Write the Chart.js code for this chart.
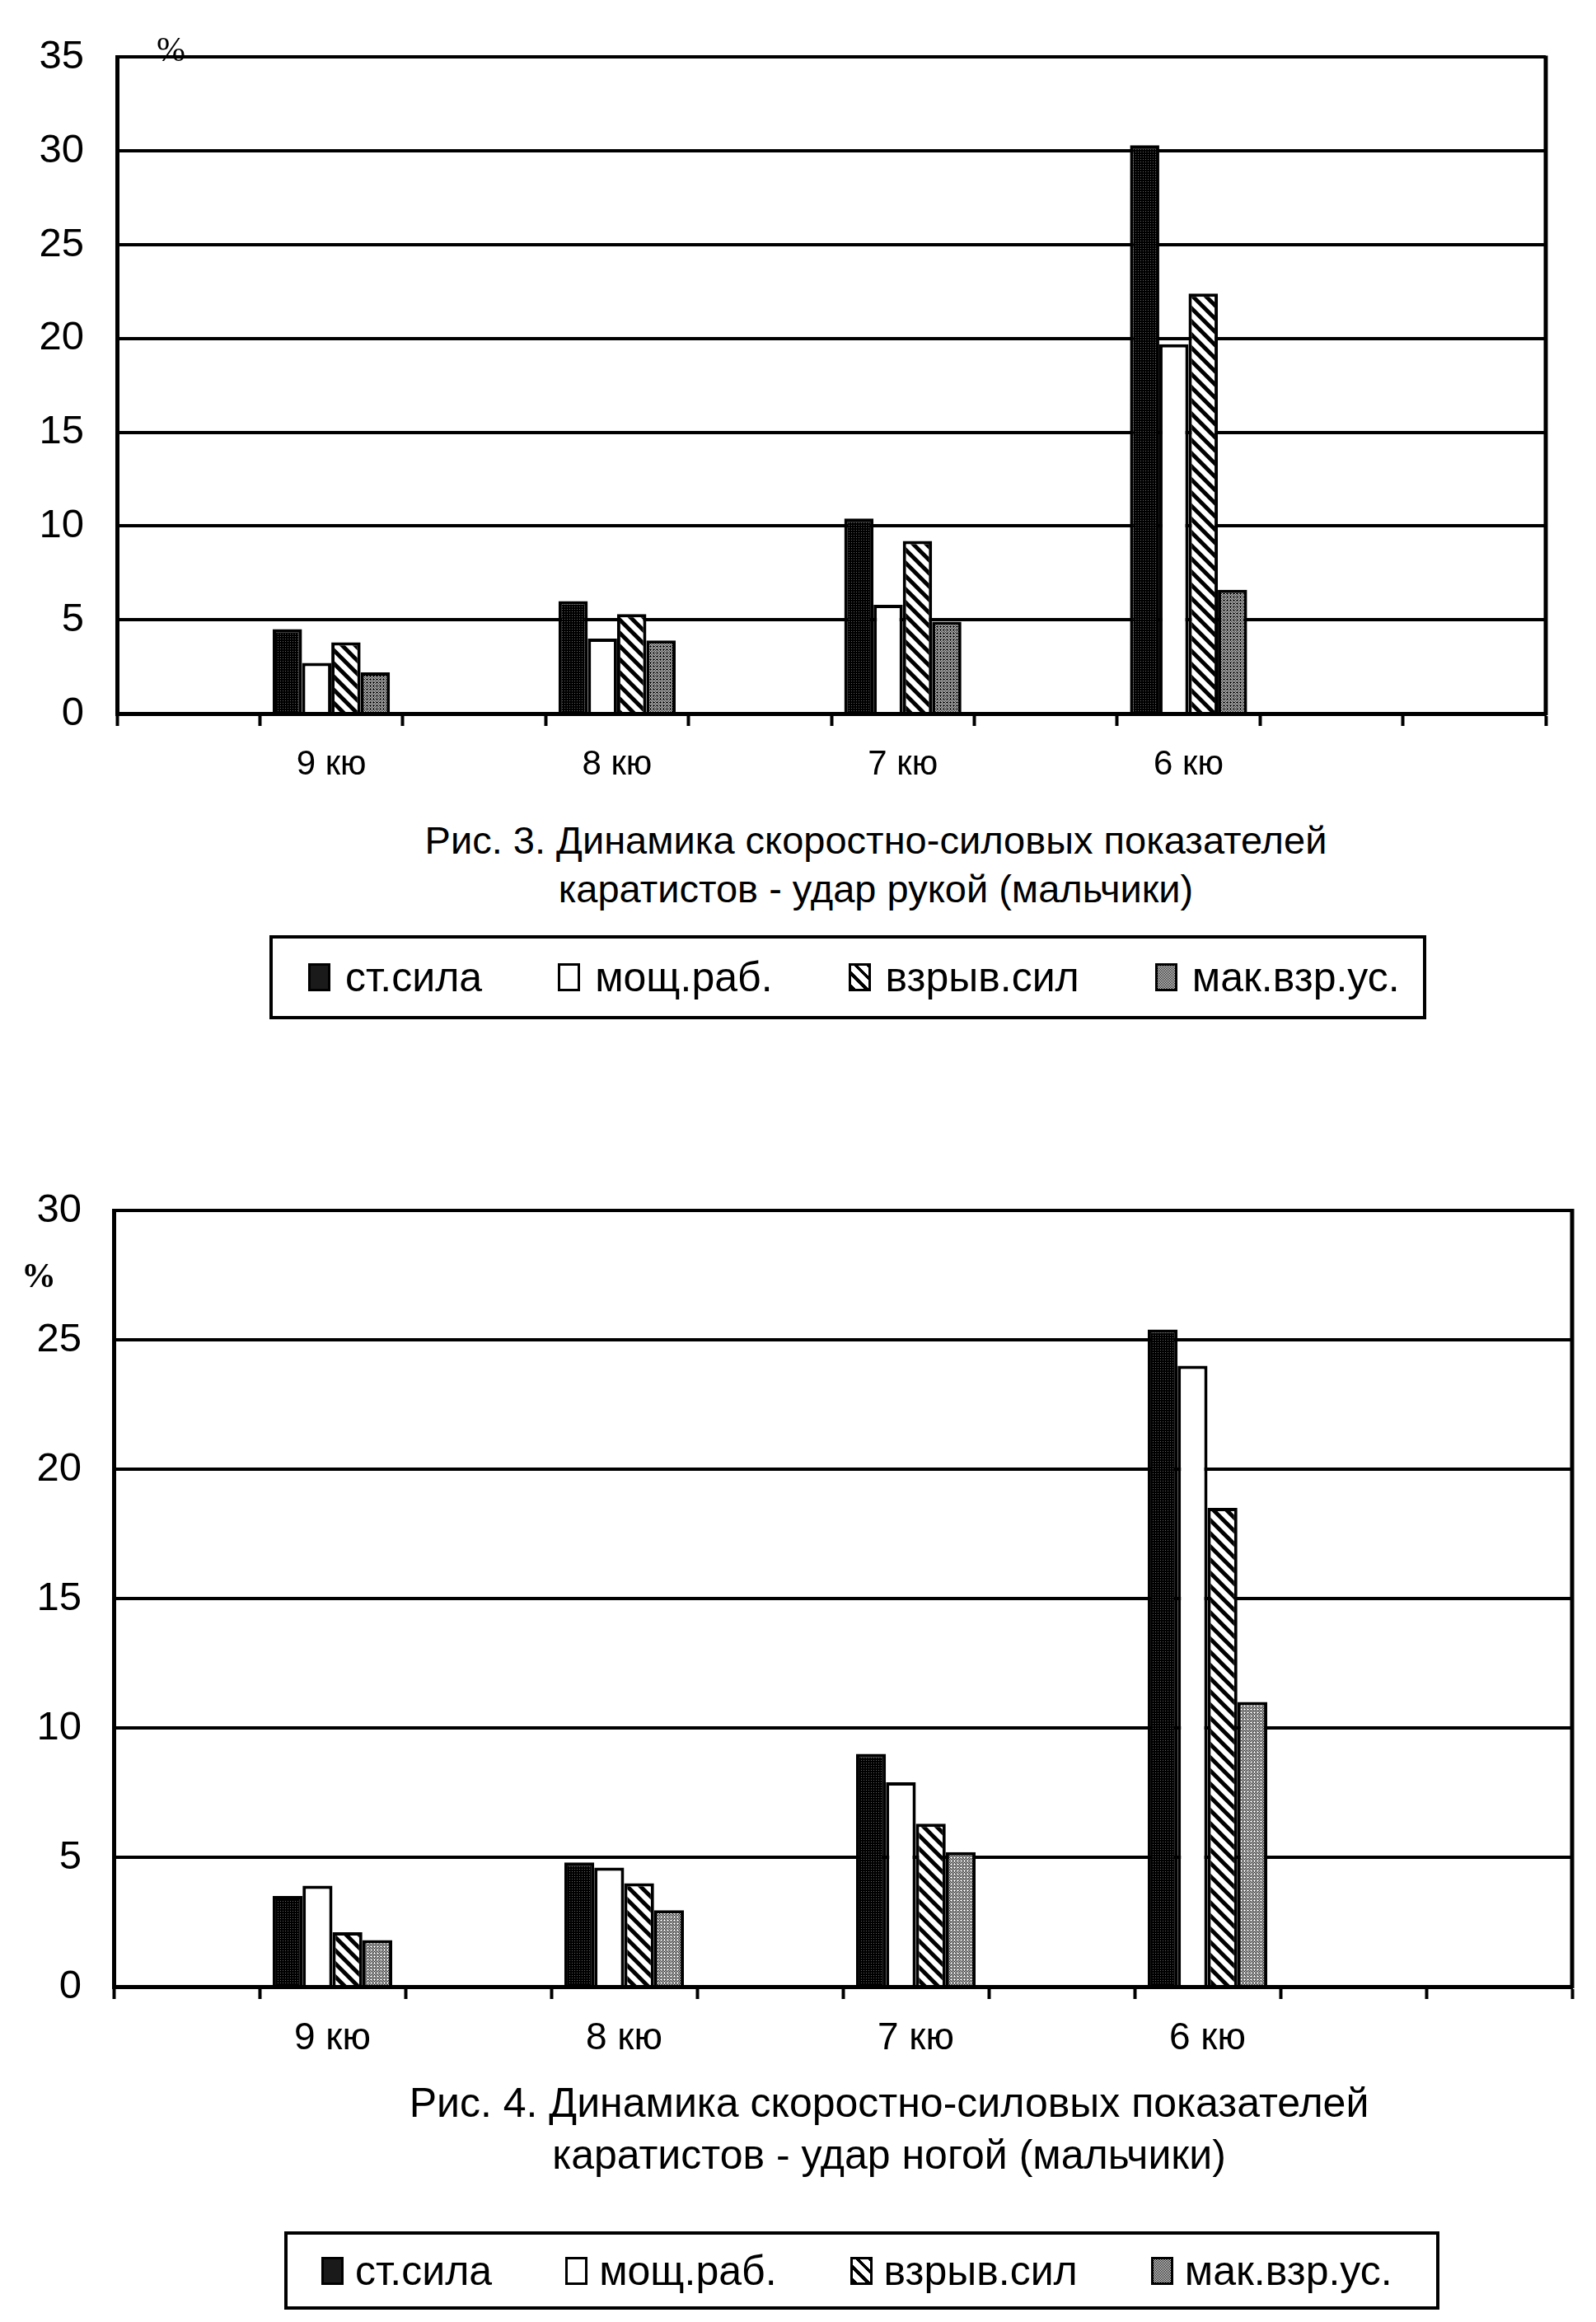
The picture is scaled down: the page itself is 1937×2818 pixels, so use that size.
<!DOCTYPE html>
<html>
<head>
<meta charset="utf-8">
<script src="https://cdn.jsdelivr.net/npm/chart.js@4.4.1/dist/chart.umd.min.js"></script>
<style>
    body { margin: 0; background: #fff; width: 1937px; height: 2818px; position: relative; overflow: hidden;
           font-family: "Liberation Sans", Arial, sans-serif; color: #000; }
    .wrap { position: absolute; left: 0; }
    canvas { display: block; }
    .pct { position: absolute; font-family: "Liberation Serif", "Times New Roman", serif; font-size: 42px; line-height: 42px; }
    .cap { position: absolute; width: 1400px; text-align: center; }
    .leg { position: absolute; box-sizing: border-box; border: 4px solid #000; display: flex; align-items: center; }
    .item { display: flex; align-items: center; white-space: nowrap; }
    .sw { box-sizing: border-box; width: 27px; height: 34px; border: 3px solid #000; }
    .sw.s0 { background: #1a1a1a; }
    .sw.s1 { background: #fff; }
    .sw.s2 { background: repeating-linear-gradient(45deg, #000 0 4px, #fff 4px 11px); }
    .sw.s3 { background: repeating-conic-gradient(#000 0 25%, #fff 0 50%) 0 0 / 2px 2px; }
</style>
</head>
<body>

<div class="wrap" style="top:0"><canvas id="fig3" width="1937" height="980"></canvas></div>
<div class="pct" style="left:190px; top:39px;">%</div>
<div class="cap" style="left:363px; top:990px; font-size:47px; line-height:59px;">
    Рис. 3. Динамика скоростно-силовых показателей<br>каратистов - удар рукой (мальчики)
</div>
<div class="leg" id="leg3" style="left:327px; top:1135px; width:1404px; height:102px; padding-left:43px; gap:92px; font-size:50px;"></div>

<div class="wrap" style="top:1400px"><canvas id="fig4" width="1937" height="1110"></canvas></div>
<div class="pct" style="left:26px; top:1527px; font-weight:bold;">%</div>
<div class="cap" style="left:379px; top:2521px; font-size:50px; line-height:63px;">
    Рис. 4. Динамика скоростно-силовых показателей<br>каратистов - удар ногой (мальчики)
</div>
<div class="leg" id="leg4" style="left:345px; top:2708px; width:1402px; height:95px; padding-left:41px; gap:89px; font-size:50px;"></div>

<script>
// categories (belt grades) and series names
const categories = ['9 кю', '8 кю', '7 кю', '6 кю'];
const seriesNames = ['ст.сила', 'мощ.раб.', 'взрыв.сил', 'мак.взр.ус.'];

// Рис. 3 - удар рукой, %
const fig3StSila = [4.5, 6.0, 10.4, 30.3];
const fig3MoshchRab = [2.7, 4.0, 5.8, 19.7];
const fig3VzryvSil = [3.8, 5.3, 9.2, 22.4];
const fig3MakVzrUs = [2.2, 3.9, 4.9, 6.6];
const fig3Ticks = [0, 5, 10, 15, 20, 25, 30, 35];

// Рис. 4 - удар ногой, %
const fig4StSila = [3.5, 4.8, 9.0, 25.4];
const fig4MoshchRab = [3.9, 4.6, 7.9, 24.0];
const fig4VzryvSil = [2.1, 4.0, 6.3, 18.5];
const fig4MakVzrUs = [1.8, 2.95, 5.2, 11.0];
const fig4Ticks = [0, 5, 10, 15, 20, 25, 30];

// the original axis has 10 slots, grades sit in every second one
const SLOTS = 10;
function slotLabels() {
    const out = Array(SLOTS).fill('');
    categories.forEach((c, i) => out[2 * i + 1] = c);
    return out;
}
function slotData(values) {
    const out = Array(SLOTS).fill(null);
    values.forEach((v, i) => out[2 * i + 1] = v);
    return out;
}

// fill patterns like the printed ones
function tile(size, draw) {
    const c = document.createElement('canvas');
    c.width = c.height = size;
    const g = c.getContext('2d');
    draw(g);
    return g.createPattern(c, 'repeat');
}
function dots(cells) {
    return tile(4, g => {
        g.fillStyle = '#fff'; g.fillRect(0, 0, 4, 4);
        g.fillStyle = '#000';
        cells.forEach(p => g.fillRect(p[0], p[1], 1, 1));
    });
}
const darkFill = tile(3, g => {
    g.fillStyle = '#000'; g.fillRect(0, 0, 3, 3);
    g.fillStyle = '#666'; g.fillRect(1, 1, 1, 1);
});
const hatchFill = tile(16, g => {
    g.fillStyle = '#fff'; g.fillRect(0, 0, 16, 16);
    g.strokeStyle = '#000'; g.lineWidth = 5;
    g.beginPath();
    g.moveTo(-4, -4); g.lineTo(20, 20);
    g.moveTo(-4, 12); g.lineTo(4, 20);
    g.moveTo(12, -4); g.lineTo(20, 4);
    g.stroke();
});
// fig 3 prints a bit darker than fig 4
const greyDark = dots([[0, 0], [2, 0], [1, 1], [3, 1], [0, 2], [2, 2], [1, 3], [3, 3], [1, 0]]);
const greyLight = dots([[0, 0], [2, 0], [1, 1], [3, 1], [0, 2], [1, 3], [3, 3]]);

// right border of the plot frame
const framePlugin = {
    id: 'frame',
    afterDatasetsDraw(chart) {
        const { ctx, chartArea: a } = chart;
        ctx.save();
        ctx.strokeStyle = '#000';
        ctx.lineWidth = 5;
        ctx.beginPath();
        ctx.moveTo(a.right, a.top - 2);
        ctx.lineTo(a.right, a.bottom + 2);
        ctx.stroke();
        ctx.restore();
    }
};

function buildChart(id, series, ticks, fills, box) {
    const ctx = document.getElementById(id).getContext('2d');
    return new Chart(ctx, {
        type: 'bar',
        data: {
            labels: slotLabels(),
            datasets: series.map((values, i) => ({
                label: seriesNames[i],
                data: slotData(values),
                backgroundColor: fills[i],
                borderColor: '#000',
                borderWidth: 4,
                categoryPercentage: 0.82,
                barPercentage: 1.0
            }))
        },
        plugins: [framePlugin],
        options: {
            responsive: false,
            animation: false,
            layout: { padding: { top: box.top, right: box.right, left: 0, bottom: 0 } },
            plugins: { legend: { display: false }, tooltip: { enabled: false } },
            scales: {
                x: {
                    afterFit: scale => { scale.height = box.axisHeight; },
                    grid: { offset: true, drawOnChartArea: false, drawTicks: true, tickLength: 15, tickWidth: 4, tickColor: '#000' },
                    border: { display: true, color: '#000', width: 5 },
                    ticks: { autoSkip: false, maxRotation: 0, color: '#000', padding: box.labelPad,
                             font: { family: '"Liberation Sans", Arial, sans-serif', size: box.labelSize } }
                },
                y: {
                    min: ticks[0],
                    max: ticks[ticks.length - 1],
                    afterFit: scale => { scale.width = box.axisWidth; },
                    grid: { color: '#000', lineWidth: 4, drawTicks: false },
                    border: { display: true, color: '#000', width: 5 },
                    ticks: { stepSize: ticks[1] - ticks[0], color: '#000', padding: box.tickPad,
                             font: { family: '"Liberation Sans", Arial, sans-serif', size: 49 } }
                }
            }
        }
    });
}

buildChart('fig3', [fig3StSila, fig3MoshchRab, fig3VzryvSil, fig3MakVzrUs], fig3Ticks,
    [darkFill, '#fff', hatchFill, greyDark],
    { top: 66, right: 61, axisHeight: 114, axisWidth: 142, tickPad: 40, labelPad: 22, labelSize: 42 });
buildChart('fig4', [fig4StSila, fig4MoshchRab, fig4VzryvSil, fig4MakVzrUs], fig4Ticks,
    [darkFill, '#fff', hatchFill, greyLight],
    { top: 69, right: 29, axisHeight: 99, axisWidth: 138, tickPad: 39, labelPad: 21, labelSize: 46 });

// legends below the captions
function buildLegend(id, swatchGap) {
    const box = document.getElementById(id);
    seriesNames.forEach((name, i) => {
        const item = document.createElement('div');
        item.className = 'item';
        const sw = document.createElement('span');
        sw.className = 'sw s' + i;
        sw.style.marginRight = swatchGap + 'px';
        const txt = document.createElement('span');
        txt.textContent = name;
        item.appendChild(sw);
        item.appendChild(txt);
        box.appendChild(item);
    });
}
buildLegend('leg3', 18);
buildLegend('leg4', 14);
</script>
</body>
</html>
